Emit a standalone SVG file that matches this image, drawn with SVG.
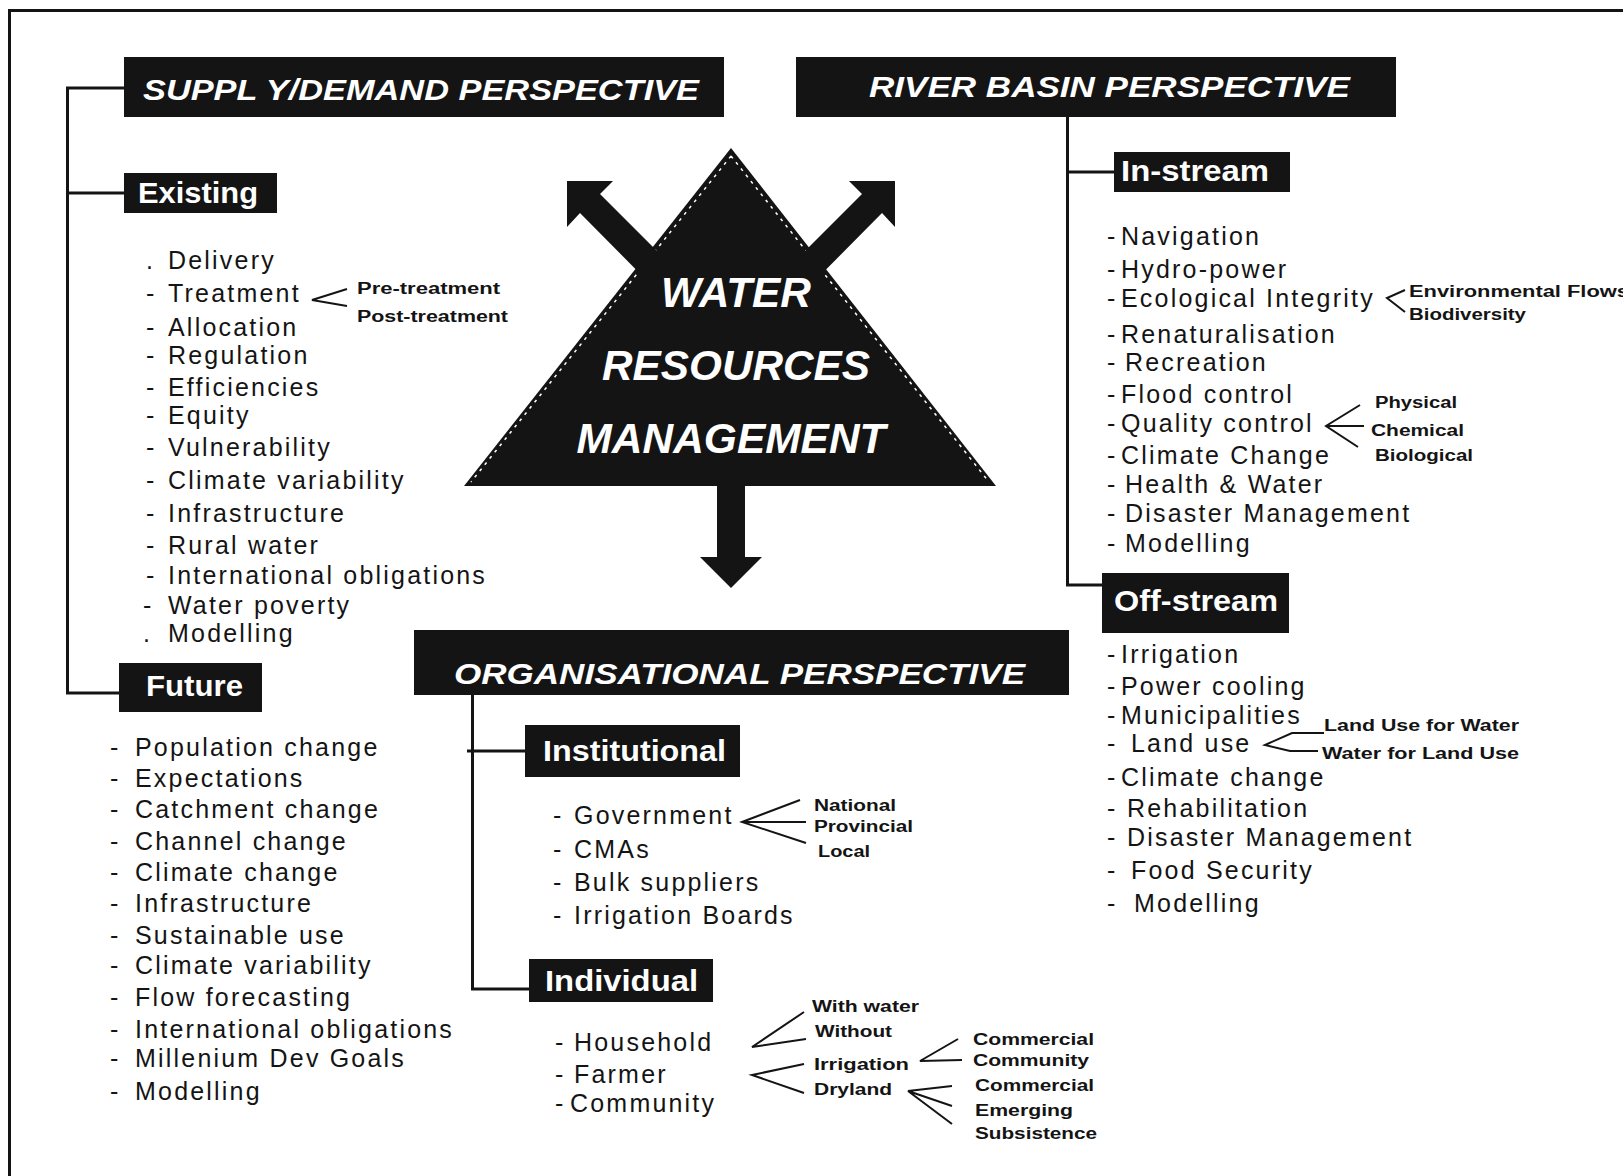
<svg xmlns="http://www.w3.org/2000/svg" width="1623" height="1176" viewBox="0 0 1623 1176">
<style>
.box{fill:#141414}
.hdrt{font-family:"Liberation Sans",Arial,sans-serif;font-style:italic;font-weight:bold;font-size:30px;fill:#fff}
.lbl{font-family:"Liberation Sans",Arial,sans-serif;font-weight:bold;font-size:30px;fill:#fff}
.item{font-family:"Liberation Sans",Arial,sans-serif;font-size:25px;letter-spacing:2.2px;fill:#141414}
.small{font-family:"Liberation Sans",Arial,sans-serif;font-weight:bold;font-size:16px;fill:#141414}
.tri{font-family:"Liberation Sans",Arial,sans-serif;font-style:italic;font-weight:bold;font-size:42px;fill:#fff}
.conn{stroke:#141414;stroke-width:3;fill:none}
.thin{stroke:#141414;stroke-width:2;fill:none}
</style>
<rect width="1623" height="1176" fill="#fff"/>
<!-- frame -->
<path class="conn" d="M9.5,1176 V10.5 H1623"/>

<g id="connectors">
<path class="conn" d="M124,88 H67.5 V693 H119 M67.5,193 H124"/>
<path class="conn" d="M1067.5,117 V585 H1102 M1067.5,172 H1115"/>
<path class="conn" d="M472.5,694 V989 H530 M467,751 H525"/>
<path class="thin" d="M347,289 L312,300 L347,306"/>
<path class="thin" d="M1405,290 L1387,298 L1405,312"/>
<path class="thin" d="M1360,405 L1326,426 L1358,447 M1326,426 H1364"/>
<path class="thin" d="M1324,733 H1292 L1265,745 L1290,751 H1318"/>
<path class="thin" d="M800,800 L742,822 L806,843 M742,822 H806"/>
<path class="thin" d="M804,1012 L752,1047 L806,1039"/>
<path class="thin" d="M804,1064 L752,1075 L804,1093"/>
<path class="thin" d="M958,1039 L920,1061 L962,1060"/>
<path class="thin" d="M952,1086 L908,1091 L952,1106 M908,1091 L952,1124"/>
</g>

<g id="wrm">
<polygon points="731,148 996,486 464,486" fill="#141414"/>
<path d="M731,156 L471,482 M731,156 L989,482" stroke="#fff" stroke-width="1.5" stroke-dasharray="3,5" fill="none"/>
<polygon points="567,181 613,181 600,194 697,291 677,311 580,213 567,227" fill="#141414"/>
<polygon points="895,181 849,181 862,194 765,291 785,311 882,213 895,227" fill="#141414"/>
<polygon points="717,480 745,480 745,557 762,557 731,588 700,557 717,557" fill="#141414"/>
<text class="tri" x="736" y="307" text-anchor="middle" textLength="150" lengthAdjust="spacingAndGlyphs">WATER</text>
<text class="tri" x="736" y="380" text-anchor="middle" textLength="268" lengthAdjust="spacingAndGlyphs">RESOURCES</text>
<text class="tri" x="731" y="453" text-anchor="middle" textLength="309" lengthAdjust="spacingAndGlyphs">MANAGEMENT</text>
</g>

<g id="supply-demand">
<rect class="box" x="124" y="57" width="600" height="60"/>
<text class="hdrt" x="143" y="100" textLength="556" lengthAdjust="spacingAndGlyphs">SUPPL Y/DEMAND PERSPECTIVE</text>
</g>

<g id="existing">
<rect class="box" x="124" y="173" width="153" height="40"/>
<text class="lbl" x="138" y="203" textLength="120" lengthAdjust="spacingAndGlyphs">Existing</text>
<g class="item">
<text x="146" y="269">.<tspan x="168">Delivery</tspan></text>
<text x="146" y="302">-<tspan x="168">Treatment</tspan></text>
<text x="146" y="336">-<tspan x="168">Allocation</tspan></text>
<text x="146" y="364">-<tspan x="168">Regulation</tspan></text>
<text x="146" y="396">-<tspan x="168">Efficiencies</tspan></text>
<text x="146" y="424">-<tspan x="168">Equity</tspan></text>
<text x="146" y="456">-<tspan x="168">Vulnerability</tspan></text>
<text x="146" y="489">-<tspan x="168">Climate variability</tspan></text>
<text x="146" y="522">-<tspan x="168">Infrastructure</tspan></text>
<text x="146" y="554">-<tspan x="168">Rural water</tspan></text>
<text x="146" y="584">-<tspan x="168">International obligations</tspan></text>
<text x="143" y="614">-<tspan x="168">Water poverty</tspan></text>
<text x="143" y="642">.<tspan x="168">Modelling</tspan></text>
</g>
<text class="small" x="357" y="294" textLength="143" lengthAdjust="spacingAndGlyphs">Pre-treatment</text>
<text class="small" x="357" y="322" textLength="151" lengthAdjust="spacingAndGlyphs">Post-treatment</text>
</g>

<g id="future">
<rect class="box" x="119" y="663" width="143" height="49"/>
<text class="lbl" x="146" y="696" textLength="97" lengthAdjust="spacingAndGlyphs">Future</text>
<g class="item">
<text x="110" y="756">-<tspan x="135">Population change</tspan></text>
<text x="110" y="787">-<tspan x="135">Expectations</tspan></text>
<text x="110" y="818">-<tspan x="135">Catchment change</tspan></text>
<text x="110" y="850">-<tspan x="135">Channel change</tspan></text>
<text x="110" y="881">-<tspan x="135">Climate change</tspan></text>
<text x="110" y="912">-<tspan x="135">Infrastructure</tspan></text>
<text x="110" y="944">-<tspan x="135">Sustainable use</tspan></text>
<text x="110" y="974">-<tspan x="135">Climate variability</tspan></text>
<text x="110" y="1006">-<tspan x="135">Flow forecasting</tspan></text>
<text x="110" y="1038">-<tspan x="135">International obligations</tspan></text>
<text x="110" y="1067">-<tspan x="135">Millenium Dev Goals</tspan></text>
<text x="110" y="1100">-<tspan x="135">Modelling</tspan></text>
</g>
</g>

<g id="river-basin">
<rect class="box" x="796" y="57" width="600" height="60"/>
<text class="hdrt" x="869" y="97" textLength="481" lengthAdjust="spacingAndGlyphs">RIVER BASIN PERSPECTIVE</text>
</g>

<g id="in-stream">
<rect class="box" x="1114" y="152" width="176" height="40"/>
<text class="lbl" x="1121" y="181" textLength="148" lengthAdjust="spacingAndGlyphs">In-stream</text>
<g class="item">
<text x="1107" y="245">-<tspan x="1121">Navigation</tspan></text>
<text x="1107" y="278">-<tspan x="1121">Hydro-power</tspan></text>
<text x="1107" y="307">-<tspan x="1121">Ecological Integrity</tspan></text>
<text x="1107" y="343">-<tspan x="1121">Renaturalisation</tspan></text>
<text x="1107" y="371">-<tspan x="1125">Recreation</tspan></text>
<text x="1107" y="403">-<tspan x="1121">Flood control</tspan></text>
<text x="1107" y="432">-<tspan x="1121">Quality control</tspan></text>
<text x="1107" y="464">-<tspan x="1121">Climate Change</tspan></text>
<text x="1107" y="493">-<tspan x="1125">Health &amp; Water</tspan></text>
<text x="1107" y="522">-<tspan x="1125">Disaster Management</tspan></text>
<text x="1107" y="552">-<tspan x="1125">Modelling</tspan></text>
</g>
<text class="small" x="1409" y="297" textLength="220" lengthAdjust="spacingAndGlyphs">Environmental Flows</text>
<text class="small" x="1409" y="320" textLength="117" lengthAdjust="spacingAndGlyphs">Biodiversity</text>
<text class="small" x="1375" y="408" textLength="82" lengthAdjust="spacingAndGlyphs">Physical</text>
<text class="small" x="1371" y="436" textLength="93" lengthAdjust="spacingAndGlyphs">Chemical</text>
<text class="small" x="1375" y="461" textLength="98" lengthAdjust="spacingAndGlyphs">Biological</text>
</g>

<g id="off-stream">
<rect class="box" x="1102" y="573" width="187" height="60"/>
<text class="lbl" x="1114" y="611" textLength="164" lengthAdjust="spacingAndGlyphs">Off-stream</text>
<g class="item">
<text x="1107" y="663">-<tspan x="1121">Irrigation</tspan></text>
<text x="1107" y="695">-<tspan x="1121">Power cooling</tspan></text>
<text x="1107" y="724">-<tspan x="1121">Municipalities</tspan></text>
<text x="1107" y="752">-<tspan x="1131">Land use</tspan></text>
<text x="1107" y="786">-<tspan x="1121">Climate change</tspan></text>
<text x="1107" y="817">-<tspan x="1127">Rehabilitation</tspan></text>
<text x="1107" y="846">-<tspan x="1127">Disaster Management</tspan></text>
<text x="1107" y="879">-<tspan x="1131">Food Security</tspan></text>
<text x="1107" y="912">-<tspan x="1134">Modelling</tspan></text>
</g>
<text class="small" x="1324" y="731" textLength="195" lengthAdjust="spacingAndGlyphs">Land Use for Water</text>
<text class="small" x="1322" y="759" textLength="197" lengthAdjust="spacingAndGlyphs">Water for Land Use</text>
</g>

<g id="organisational">
<rect class="box" x="414" y="630" width="655" height="65"/>
<text class="hdrt" x="454" y="684" textLength="571" lengthAdjust="spacingAndGlyphs">ORGANISATIONAL PERSPECTIVE</text>
</g>

<g id="institutional">
<rect class="box" x="525" y="725" width="215" height="52"/>
<text class="lbl" x="543" y="761" textLength="183" lengthAdjust="spacingAndGlyphs">Institutional</text>
<g class="item">
<text x="553" y="824">-<tspan x="574">Government</tspan></text>
<text x="553" y="858">-<tspan x="574">CMAs</tspan></text>
<text x="553" y="891">-<tspan x="574">Bulk suppliers</tspan></text>
<text x="553" y="924">-<tspan x="574">Irrigation Boards</tspan></text>
</g>
<text class="small" x="814" y="811" textLength="82" lengthAdjust="spacingAndGlyphs">National</text>
<text class="small" x="814" y="832" textLength="99" lengthAdjust="spacingAndGlyphs">Provincial</text>
<text class="small" x="818" y="857" textLength="52" lengthAdjust="spacingAndGlyphs">Local</text>
</g>

<g id="individual">
<rect class="box" x="529" y="959" width="184" height="43"/>
<text class="lbl" x="545" y="991" textLength="153" lengthAdjust="spacingAndGlyphs">Individual</text>
<g class="item">
<text x="555" y="1051">-<tspan x="574">Household</tspan></text>
<text x="555" y="1083">-<tspan x="574">Farmer</tspan></text>
<text x="555" y="1112">-<tspan x="570">Community</tspan></text>
</g>
<text class="small" x="812" y="1012" textLength="107" lengthAdjust="spacingAndGlyphs">With water</text>
<text class="small" x="815" y="1037" textLength="77" lengthAdjust="spacingAndGlyphs">Without</text>
<text class="small" x="814" y="1070" textLength="95" lengthAdjust="spacingAndGlyphs">Irrigation</text>
<text class="small" x="814" y="1095" textLength="78" lengthAdjust="spacingAndGlyphs">Dryland</text>
<text class="small" x="973" y="1045" textLength="121" lengthAdjust="spacingAndGlyphs">Commercial</text>
<text class="small" x="973" y="1066" textLength="116" lengthAdjust="spacingAndGlyphs">Community</text>
<text class="small" x="975" y="1091" textLength="119" lengthAdjust="spacingAndGlyphs">Commercial</text>
<text class="small" x="975" y="1116" textLength="98" lengthAdjust="spacingAndGlyphs">Emerging</text>
<text class="small" x="975" y="1139" textLength="122" lengthAdjust="spacingAndGlyphs">Subsistence</text>
</g>
</svg>
